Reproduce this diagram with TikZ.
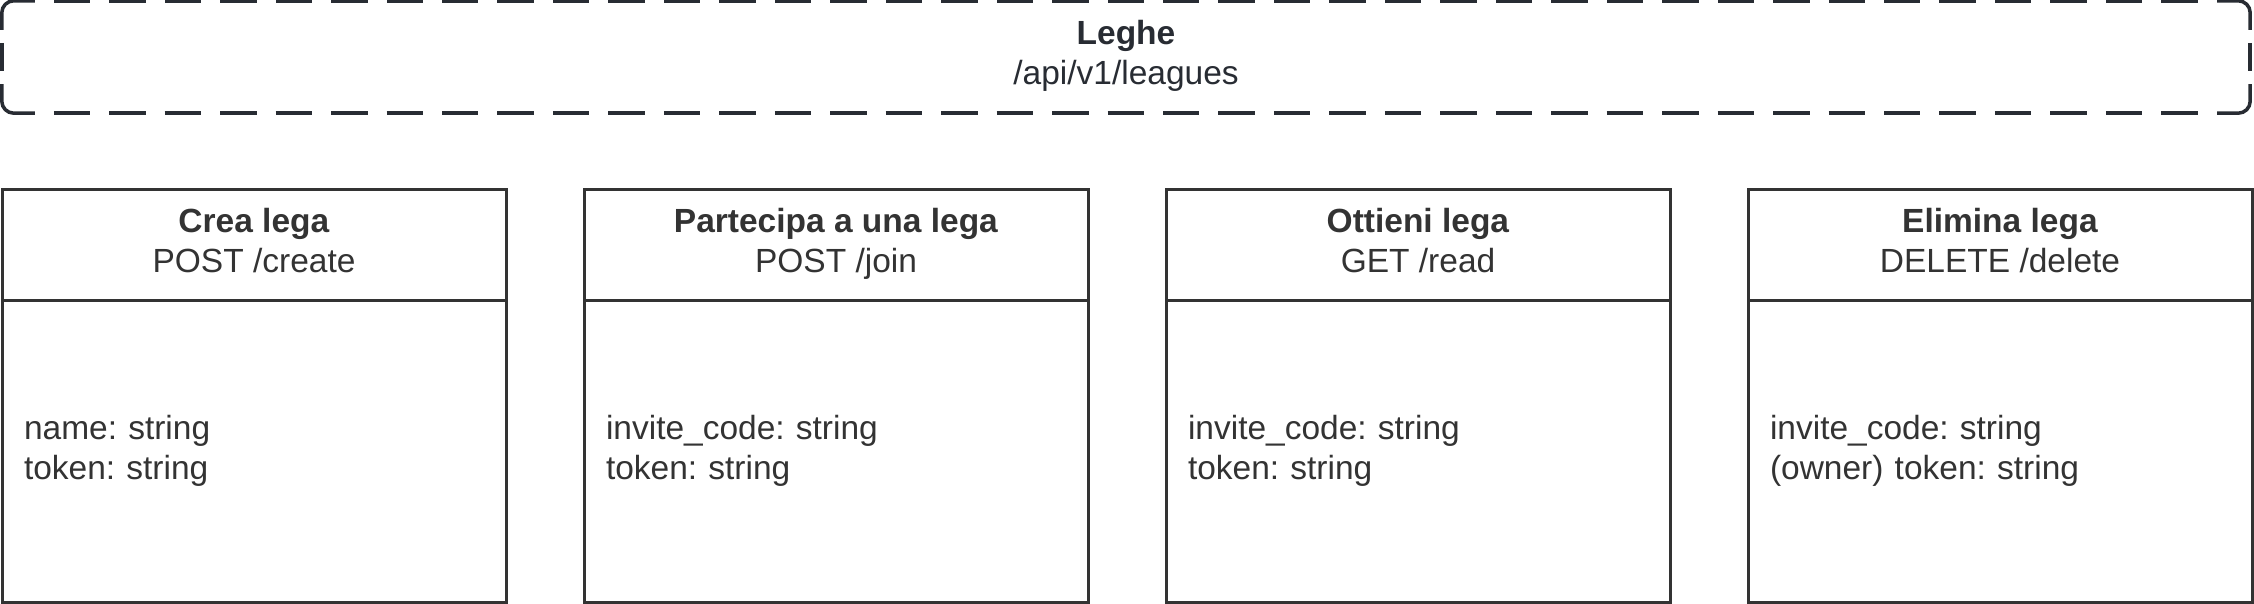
\documentclass[tikz,border=0pt]{standalone}
\usepackage{fontspec}
\setmainfont{Liberation Sans}
\usetikzlibrary{calc}
\definecolor{ink}{HTML}{333333}
\definecolor{dink}{HTML}{282C33}
\frenchspacing
\begin{document}
\begin{tikzpicture}[x=1pt,y=-1pt,
  txt/.style={font={\fontsize{33.5}{40}\selectfont}, text=ink},
  groupbox/.style={minimum width=2248pt, minimum height=112pt,
    inner sep=0pt, align=center, font={\fontsize{33.5}{40}\selectfont}, text=dink},
  frame/.style={draw=dink, line width=3.5pt},
  corner/.style={frame, rounded corners=12pt},
  hdash/.style={frame, dash pattern=on 36.46pt off 19pt},
  headbox/.style={draw=ink, line width=3pt, minimum width=504pt, minimum height=110pt,
    inner sep=0pt, align=center, txt},
  bodybox/.style={draw=ink, line width=3pt, text width=460pt, inner xsep=22pt,
    inner ysep=0pt, minimum height=302pt, align=left, txt}
]
\useasboundingbox (0,0) rectangle (2254,604);
\node[groupbox] (grp) at (1126,57) {\strut\textbf{Leghe}\\\strut/api/v1/leagues};
% dashed rounded frame of the group
\draw[corner] ($(grp.north west)+(0,29)$) -- (grp.north west) -- ($(grp.north west)+(33,0)$);
\draw[corner] ($(grp.north east)+(-33,0)$) -- (grp.north east) -- ($(grp.north east)+(0,29)$);
\draw[corner] ($(grp.south east)+(0,-29)$) -- (grp.south east) -- ($(grp.south east)+(-33,0)$);
\draw[corner] ($(grp.south west)+(33,0)$) -- (grp.south west) -- ($(grp.south west)+(0,-29)$);
\draw[hdash] ($(grp.north west)+(52,0)$) -- ($(grp.north east)+(-52,0)$);
\draw[hdash] ($(grp.south west)+(52,0)$) -- ($(grp.south east)+(-52,0)$);
\draw[frame] ($(grp.west)+(0,-14)$) -- ($(grp.west)+(0,14)$);
\draw[frame] ($(grp.east)+(0,-14)$) -- ($(grp.east)+(0,14)$);

\node[headbox] (h1) at (254,245) {\strut\textbf{Crea lega}\\\strut POST /create};
\node[bodybox] (b1) at (254,451) {name: string\\token: string};

\node[headbox] (h2) at (836,245) {\strut\textbf{Partecipa a una lega}\\\strut POST /join};
\node[bodybox] (b2) at (836,451) {invite\_code: string\\token: string};

\node[headbox] (h3) at (1418,245) {\strut\textbf{Ottieni lega}\\\strut GET /read};
\node[bodybox] (b3) at (1418,451) {invite\_code: string\\token: string};

\node[headbox] (h4) at (2000,245) {\strut\textbf{Elimina lega}\\\strut DELETE /delete};
\node[bodybox] (b4) at (2000,451) {invite\_code: string\\(owner) token: string};
\end{tikzpicture}
\end{document}
